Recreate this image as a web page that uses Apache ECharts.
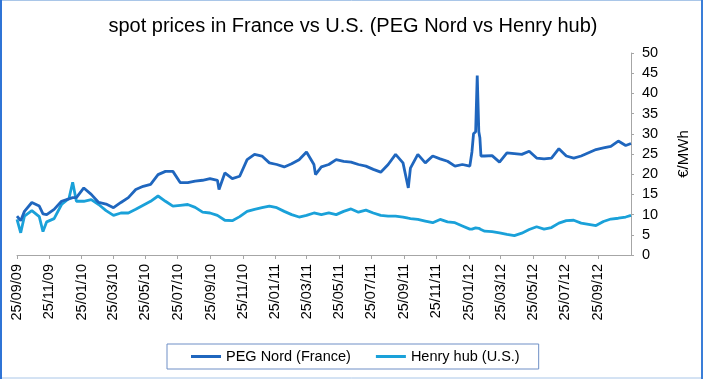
<!DOCTYPE html>
<html>
<head>
<meta charset="utf-8">
<script src="https://cdn.jsdelivr.net/npm/echarts@6/dist/echarts.min.js"></script>
<style>
html,body{margin:0;padding:0;background:#fff;}
#chart{width:706px;height:381px;}
</style>
</head>
<body>
<div id="chart"></div>
<script>
const titleText = 'spot prices in France vs U.S. (PEG Nord vs Henry hub)';
const seriesNames = ['PEG Nord (France)', 'Henry hub (U.S.)'];
const yAxisName = '€/MWh';
const tickDates = ['2009-09-25','2009-11-25','2010-01-25','2010-03-25','2010-05-25','2010-07-25','2010-09-25','2010-11-25','2011-01-25','2011-03-25','2011-05-25','2011-07-25','2011-09-25','2011-11-25','2012-01-25','2012-03-25','2012-05-25','2012-07-25','2012-09-25'];
const yTicks = [0,5,10,15,20,25,30,35,40,45,50];

const dates = [
'2009-09-25','2009-10-02','2009-10-09','2009-10-23','2009-11-06','2009-11-13','2009-11-20','2009-12-04','2009-12-18',
'2010-01-01','2010-01-08','2010-01-15','2010-01-29','2010-02-12','2010-02-26','2010-03-12','2010-03-26','2010-04-09',
'2010-04-23','2010-05-07','2010-05-21','2010-06-04','2010-06-18','2010-07-02','2010-07-16','2010-07-30','2010-08-13',
'2010-08-27','2010-09-10','2010-09-24','2010-10-08','2010-10-11','2010-10-22','2010-11-05','2010-11-19','2010-12-03',
'2010-12-17','2010-12-31','2011-01-14','2011-01-28','2011-02-11','2011-02-25','2011-03-11','2011-03-25','2011-04-08',
'2011-04-11','2011-04-22','2011-05-06','2011-05-20','2011-06-03','2011-06-17','2011-07-01','2011-07-15','2011-07-29',
'2011-08-12','2011-08-26','2011-09-09','2011-09-23','2011-10-03','2011-10-07','2011-10-21','2011-11-04','2011-11-18',
'2011-12-02','2011-12-16','2011-12-30','2012-01-13','2012-01-27','2012-01-31','2012-02-03','2012-02-07','2012-02-10',
'2012-02-13','2012-02-15','2012-02-17','2012-02-24','2012-03-09','2012-03-23','2012-04-06','2012-04-20','2012-05-04',
'2012-05-18','2012-06-01','2012-06-15','2012-06-29','2012-07-13','2012-07-27','2012-08-10','2012-08-24','2012-09-07',
'2012-09-21','2012-10-05','2012-10-19','2012-11-02','2012-11-16','2012-11-26'
];
const pegNord = [
9.6,8.5,10.8,13.0,12.1,10.2,10.0,11.3,13.3,
13.9,14.2,14.2,16.6,15.0,13.0,12.6,11.7,13.0,
14.2,16.2,17.0,17.5,19.9,20.7,20.7,17.9,17.9,
18.3,18.5,18.9,18.5,16.2,20.3,18.9,19.5,23.6,
24.9,24.5,22.8,22.4,21.8,22.6,23.6,25.5,22.4,
19.9,21.8,22.4,23.6,23.2,23.0,22.4,22.0,21.2,
20.5,22.4,24.9,22.8,16.6,21.5,24.9,22.8,24.5,
23.8,23.2,22.0,22.4,22.0,25.5,30.0,30.5,44.4,
30.5,29.0,24.5,24.5,24.6,23.0,25.3,25.1,24.9,
25.7,24.0,23.8,24.0,26.3,24.5,24.0,24.5,25.3,
26.1,26.5,26.9,28.2,27.1,27.6
];
const henryHub = [
8.8,5.5,9.6,11.0,9.5,5.8,8.2,9.0,12.5,
14.0,18.0,13.3,13.3,13.7,12.5,11.0,9.8,10.4,
10.4,11.3,12.3,13.3,14.6,13.3,12.1,12.3,12.5,
11.8,10.6,10.4,9.8,9.7,8.6,8.5,9.5,10.8,
11.3,11.7,12.1,11.7,10.8,10.0,9.4,9.8,10.4,
10.3,10.0,10.4,10.0,10.8,11.4,10.6,11.1,10.4,
9.8,9.6,9.6,9.4,9.1,9.0,8.8,8.4,8.0,
8.8,8.2,8.0,7.2,6.4,6.4,6.5,6.7,6.6,
6.6,6.5,6.3,5.9,5.8,5.5,5.1,4.8,5.4,
6.3,7.0,6.4,6.8,7.9,8.5,8.6,7.9,7.6,
7.3,8.3,8.9,9.1,9.4,9.8
];

function toTs(s){ const p = s.split('-'); return Date.UTC(+p[0], +p[1]-1, +p[2]); }
function pad(n){ return (n<10?'0':'')+n; }
function fmt(v){ const d = new Date(v); return pad(d.getUTCDate())+'/'+pad(d.getUTCMonth()+1)+'/'+pad(d.getUTCFullYear()%100); }

const tickTs = tickDates.map(toTs);
const pegData = dates.map((d,i)=>[toTs(d), pegNord[i]]);
const henryData = dates.map((d,i)=>[toTs(d), henryHub[i]]);

const FONT = '"Liberation Sans", Arial, sans-serif';
const chart = echarts.init(document.getElementById('chart'), null, {renderer:'canvas'});
chart.setOption({
  animation:false,
  backgroundColor:'#ffffff',
  title:{
    text:titleText, left:'center', top:11,
    textStyle:{fontFamily:FONT, fontSize:20, fontWeight:'normal', color:'#000'}
  },
  legend:{
    data:seriesNames, left:167, top:344,
    orient:'horizontal',
    padding:[5,19,5,24],
    borderColor:'#6E8FC6', borderWidth:1,
    itemWidth:30, itemHeight:3, itemGap:25,
    icon:'rect',
    textStyle:{fontFamily:FONT, fontSize:14.5, color:'#000'}
  },
  grid:{left:17, right:75, top:53, bottom:126, containLabel:false},
  xAxis:{
    type:'value',
    min:toTs(dates[0]), max:toTs(dates[dates.length-1]),
    axisLine:{show:true, lineStyle:{color:'#A6A6A6', width:1}},
    axisTick:{show:true, customValues:tickTs, length:4, lineStyle:{color:'#A6A6A6'}},
    axisLabel:{customValues:tickTs, rotate:90, margin:9, fontFamily:FONT, fontSize:14.5, color:'#000',
      formatter:function(v){ return fmt(v); }, hideOverlap:false, showMinLabel:true, showMaxLabel:true},
    splitLine:{show:false}
  },
  yAxis:{
    type:'value', position:'right', min:yTicks[0], max:yTicks[yTicks.length-1], interval:5,
    name:yAxisName, nameLocation:'middle', nameRotate:90, nameGap:45,
    nameTextStyle:{fontFamily:FONT, fontSize:15, color:'#000'},
    axisLine:{show:true, lineStyle:{color:'#A6A6A6', width:1}},
    axisTick:{show:true, length:3, lineStyle:{color:'#A6A6A6'}},
    axisLabel:{margin:11, fontFamily:FONT, fontSize:14.5, color:'#000'},
    splitLine:{show:false}
  },
  series:[
    {name:seriesNames[0], type:'line', data:pegData, showSymbol:false, symbol:'none',
      lineStyle:{color:'#1F66BE', width:2.8}, itemStyle:{color:'#1F66BE'}, z:3},
    {name:seriesNames[1], type:'line', data:henryData, showSymbol:false, symbol:'none',
      lineStyle:{color:'#1AA1D9', width:2.8}, itemStyle:{color:'#1AA1D9'}, z:2}
  ],
  graphic:[
    {type:'rect', shape:{x:1.5, y:0.5, width:700.5, height:377.5}, style:{fill:null, stroke:'#A9C6E8', lineWidth:1}, silent:true},
    {type:'line', shape:{x1:1, y1:0, x2:1, y2:379}, style:{stroke:'#2F74D6', lineWidth:2}, silent:true},
    {type:'line', shape:{x1:702, y1:0, x2:702, y2:379}, style:{stroke:'#3A7ED8', lineWidth:2}, silent:true}
  ]
});
</script>
</body>
</html>
